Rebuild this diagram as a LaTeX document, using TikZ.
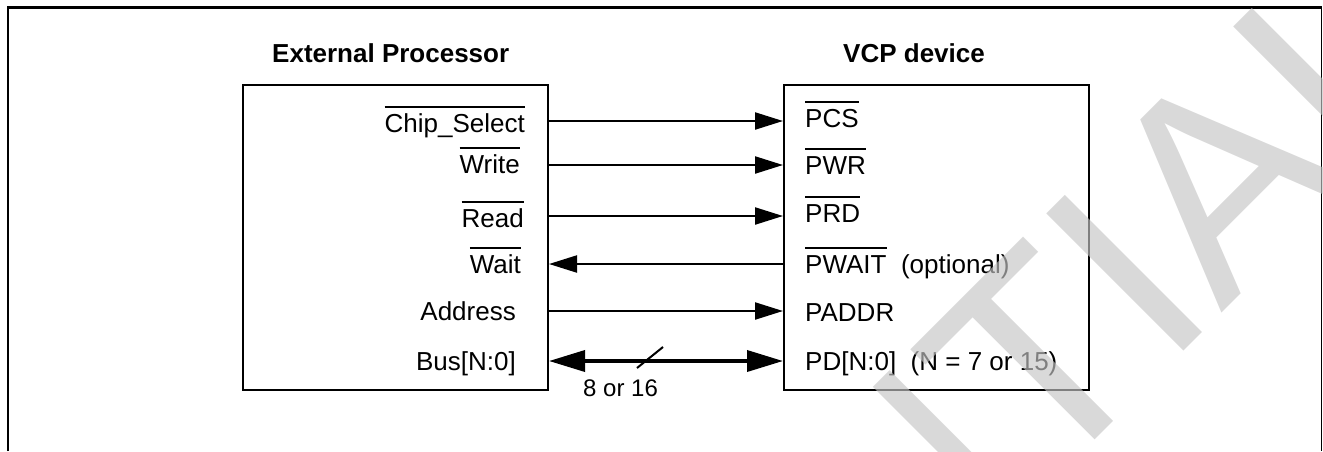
\documentclass[tikz,border=0pt]{standalone}
\usepackage{fontspec}
\setmainfont{Liberation Sans}
\usetikzlibrary{arrows.meta}
\newcommand\ovl[1]{\setbox0\hbox{#1}\rlap{\rule[24.5pt]{\wd0}{1.6pt}}\box0}
\begin{document}
\begin{tikzpicture}[x=1pt,y=-1pt,
  lab/.style={font=\fontsize{26}{30}\selectfont, inner sep=0pt},
  small/.style={font=\fontsize{24}{28}\selectfont, inner sep=0pt},
  head/.style={font=\fontsize{26}{30}\selectfont\bfseries, inner sep=0pt},
  blk/.style={draw, line width=2pt, minimum width=305pt, minimum height=305pt, inner sep=0pt},
  sig/.style={line width=2.2pt},
  tipA/.tip={Triangle[length=28pt,width=17pt]},
  tipB/.tip={Triangle[length=36pt,width=21pt]},
  bus/.style={line width=3.6pt}]
\useasboundingbox (0,0) rectangle (1323,451);
% frame
\draw[line width=2.7pt] (8,451) -- (8,7.3) -- (1321.5,7.3);
\draw[line width=1.5pt] (1321.5,7.3) -- (1321.5,451);
% blocks
\node[blk] (lbox) at (395.5,237.5) {};
\node[blk] (rbox) at (936.5,237.5) {};
\node[head, anchor=base west] (hl) at (272,62) {External Processor};
\node[head, anchor=base west] (hr) at (843,62) {VCP device};
% left labels
\node[lab, anchor=base east] (l1) at (525,132) {\ovl{Chip\_Select}};
\node[lab, anchor=base east] (l2) at (520,173) {\ovl{Write}};
\node[lab, anchor=base east] (l3) at (524,227) {\ovl{Read}};
\node[lab, anchor=base east] (l4) at (521,273) {\ovl{Wait}};
\node[lab, anchor=base east] (l5) at (516,320) {Address};
\node[lab, anchor=base east] (l6) at (516,370) {Bus[N:0]};
% right labels
\node[lab, anchor=base west] (r1) at (805,127) {\ovl{PCS}};
\node[lab, anchor=base west] (r2) at (805,174) {\ovl{PWR}};
\node[lab, anchor=base west] (r3) at (805,222) {\ovl{PRD}};
\node[lab, anchor=base west] (r4) at (805,273) {\ovl{PWAIT}\hspace{14.5pt}(optional)};
\node[lab, anchor=base west] (r5) at (805,321) {PADDR};
\node[lab, anchor=base west] (r6) at (805,370) {PD[N:0]\hspace{14.5pt}(N = 7 or 15)};
% connection points
\foreach \i/\y in {1/121,2/165,3/216,4/264,5/311,6/361}{
  \coordinate (a\i) at (lbox.east |- 0,\y);
  \coordinate (b\i) at (rbox.west |- 0,\y);
}
\draw[sig,-tipA] (a1) -- (b1);
\draw[sig,-tipA] (a2) -- (b2);
\draw[sig,-tipA] (a3) -- (b3);
\draw[sig,tipA-] (a4) -- (b4);
\draw[sig,-tipA] (a5) -- (b5);
\draw[bus,tipB-tipB] (a6) -- (b6);
\coordinate (s1) at (637,368);
\coordinate (s2) at (663,347);
\draw[line width=2pt] (s1) -- (s2);
\node[small, anchor=base west] (w) at (583,396) {8 or 16};
% watermark
\begin{scope}
\clip (0,0) rectangle (1323,451);
\node[inner sep=0pt, anchor=base west, rotate=45, text=black!23, text opacity=0.65,
  font=\fontsize{282}{300}\selectfont] (wm) at (2.5,1532.5) {CONFIDENTIAL};
\end{scope}
\end{tikzpicture}
\end{document}
